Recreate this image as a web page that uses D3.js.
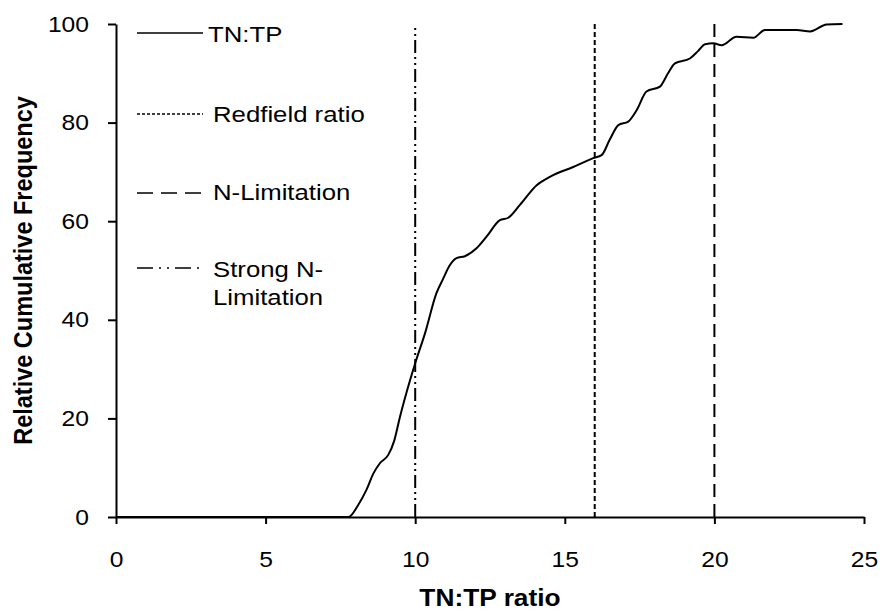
<!DOCTYPE html>
<html><head><meta charset="utf-8">
<script src="https://cdn.jsdelivr.net/npm/d3@7"></script>
<style>body{margin:0;background:#fff;} text{font-family:Arial,"Liberation Sans",sans-serif;fill:#000;}</style>
</head><body><svg id="c" width="883" height="614"></svg>
<script>
const ratioX = [0, 7.0, 7.77, 8.1, 8.37, 8.6, 8.82, 9.1, 9.3, 9.49, 9.83, 10.0, 10.33, 10.71, 10.94, 11.15, 11.38, 11.66, 12.05, 12.39, 12.83, 13.11, 13.5, 14.06, 14.5, 15.28, 15.95, 16.23, 16.5, 16.79, 17.12, 17.4, 17.73, 18.18, 18.45, 18.68, 19.18, 19.45, 19.69, 19.96, 20.24, 20.74, 21.3, 21.69, 22.75, 23.2, 23.75, 24.28];
const cumFreq = [0, 0, 0, 2.5, 5.5, 8.8, 10.9, 12.6, 15.5, 20.3, 27.8, 31.2, 37.3, 45.4, 48.4, 51.0, 52.5, 52.9, 54.5, 56.9, 60.2, 60.7, 63.3, 67.3, 69, 71, 72.8, 73.4, 76.5, 79.5, 80.2, 82.5, 86.3, 87.3, 90, 92, 93, 94.5, 95.9, 96.1, 95.7, 97.4, 97.2, 98.8, 98.8, 98.5, 99.9, 100];
const refNames = ["Redfield ratio", "N-Limitation", "Strong N-Limitation"];
const refValues = [16, 20, 10];
const xTicks = [0, 5, 10, 15, 20, 25];
const yTicks = [0, 20, 40, 60, 80, 100];
const legendLabels = [["TN:TP"], ["Redfield ratio"], ["N-Limitation"], ["Strong N-", "Limitation"]];

const SX = 1.12; // horizontal stretch of glyphs
const svg = d3.select("#c");
const x = d3.scaleLinear().domain([0, 25]).range([116, 864]);
const y = d3.scaleLinear().domain([0, 100]).range([517, 24]);

const dashVert = {"Redfield ratio": "5,3", "N-Limitation": "13,7", "Strong N-Limitation": "13,4,2,4,2,4"};
const dashLeg = ["", "3,2", "16,8", "16,6,2,6,2,6"];

// reference lines
svg.selectAll("line.ref").data(refValues).enter().append("line")
  .attr("x1", d => x(d)).attr("x2", d => x(d))
  .attr("y1", y(0)).attr("y2", y(100))
  .attr("stroke", "#000").attr("stroke-width", 2)
  .attr("stroke-dasharray", (d, i) => dashVert[refNames[i]]);

// axes
const xAxis = d3.axisBottom(x).tickValues(xTicks).tickSize(7).tickSizeOuter(0).tickPadding(27);
const gx = svg.append("g").attr("transform", `translate(0,${y(0)})`).call(xAxis);
const yAxis = d3.axisLeft(y).tickValues(yTicks).tickSize(8).tickSizeOuter(0).tickPadding(19);
const gy = svg.append("g").attr("transform", `translate(${x(0)},0)`).call(yAxis);
[gx, gy].forEach(g => {
  g.select(".domain").attr("stroke", "#000").attr("stroke-width", 2);
  g.selectAll(".tick line").attr("stroke", "#000").attr("stroke-width", 2);
  g.selectAll(".tick text").attr("fill", "#000").style("font-size", "22px")
    .style("font-family", "Arial, 'Liberation Sans', sans-serif")
    .each(function() {
      const t = d3.select(this);
      const tx = +t.attr("x") || 0;
      const ty = +t.attr("y") || 0;
      t.attr("x", 0).attr("y", 0).attr("transform", `translate(${tx},${ty}) scale(${SX},1)`);
    });
});

// curve
const pts = ratioX.map((v, i) => [v, cumFreq[i]]);
svg.append("path").datum(pts)
  .attr("fill", "none").attr("stroke", "#000").attr("stroke-width", 2)
  .attr("d", d3.line().x(d => x(d[0])).y(d => y(d[1])).curve(d3.curveMonotoneX));

// axis titles
svg.append("text").attr("transform", `translate(${(x(0) + x(25)) / 2},606) scale(${SX},1)`).attr("text-anchor", "middle")
  .style("font-size", "23.5px").style("font-weight", "bold").text("TN:TP ratio");
svg.append("text").attr("transform", `translate(32,${(y(0) + y(100)) / 2}) scale(${SX},1) rotate(-90)`)
  .attr("text-anchor", "middle").style("font-size", "23.5px").style("font-weight", "bold")
  .text("Relative Cumulative Frequency");

// legend
const legLineY = [33, 114, 193, 268];
const legTextY = [[42], [122], [200], [277, 305]];
legendLabels.forEach((lab, i) => {
  svg.append("line").attr("x1", 137).attr("x2", 203).attr("y1", legLineY[i]).attr("y2", legLineY[i])
    .attr("stroke", "#000").attr("stroke-width", 1.5).attr("stroke-dasharray", dashLeg[i] || null);
  lab.forEach((t, j) => {
    svg.append("text").attr("transform", `translate(${i === 0 ? 208 : 213},${legTextY[i][j]}) scale(${SX},1)`)
      .style("font-size", "23px").text(t);
  });
});
</script></body></html>
